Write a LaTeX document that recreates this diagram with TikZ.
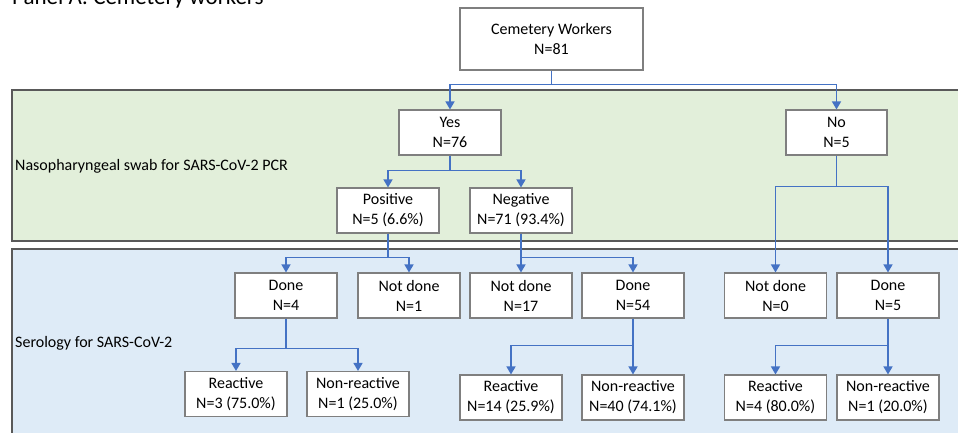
\documentclass[tikz,border=0pt]{standalone}
\usepackage{fontspec}
\setmainfont{Carlito}
\usetikzlibrary{arrows.meta}
\definecolor{conncol}{HTML}{4472C4}
\definecolor{boxcol}{HTML}{7F7F7F}
\definecolor{bandline}{HTML}{595959}
\definecolor{greenfill}{HTML}{E2EFDA}
\definecolor{bluefill}{HTML}{DEEBF7}
\tikzset{
  flowbox/.style={draw=boxcol, line width=1.1pt, fill=white, align=center,
    minimum width=102pt, minimum height=45pt, inner sep=0pt,
    font=\fontsize{16}{20}\selectfont},
  conn/.style={draw=conncol, line width=1.5pt,
    -{Triangle[width=9pt,length=8pt]}},
  band/.style={draw=bandline, line width=1.4pt},
  bandlabel/.style={anchor=west, inner sep=0pt, font=\fontsize{16}{20}\selectfont}
}
\begin{document}
\begin{tikzpicture}[x=1pt,y=-1pt]
\useasboundingbox (0,0) rectangle (958,433);
\clip (0,0) rectangle (958,433);
% title (cut off at the top edge, as in the reference)
\node[anchor=base west, inner sep=0pt, font=\fontsize{23}{27}\selectfont] (title) at (12,4.5) {Panel A: Cemetery workers};
% bands
\path[band, fill=greenfill] (12,90) rectangle (975,241);
\path[band, fill=bluefill] (12,249) rectangle (975,450);
\node[bandlabel] (lab1) at (15,166) {Nasopharyngeal swab for SARS-CoV-2 PCR};
\node[bandlabel] (lab2) at (15,343) {Serology for SARS-CoV-2};
% nodes
\node[flowbox, minimum width=183pt, minimum height=62pt] (top) at (551.5,39) {Cemetery Workers\\N=81};
\node[flowbox] (yes) at (450,132.5) {Yes\\N=76};
\node[flowbox, minimum width=101pt] (no) at (836.5,132.5) {No\\N=5};
\node[flowbox] (pos) at (388,210.5) {Positive\\N=5 (6.6\%)};
\node[flowbox] (neg) at (521,210.5) {Negative\\N=71 (93.4\%)};
\node[flowbox] (done1) at (286,295.5) {Done\\N=4};
\node[flowbox] (nd1) at (409,295.5) {Not done\\N=1};
\node[flowbox] (nd17) at (521,295.5) {Not done\\N=17};
\node[flowbox] (done54) at (633,295.5) {Done\\N=54};
\node[flowbox] (nd0) at (775.5,295.5) {Not done\\N=0};
\node[flowbox] (done5) at (888,295.5) {Done\\N=5};
\node[flowbox] (r3) at (236,394) {Reactive\\N=3 (75.0\%)};
\node[flowbox] (nr1) at (358,394) {Non-reactive\\N=1 (25.0\%)};
\node[flowbox] (r14) at (511,397.5) {Reactive\\N=14 (25.9\%)};
\node[flowbox] (nr40) at (633,397.5) {Non-reactive\\N=40 (74.1\%)};
\node[flowbox] (r4) at (775.5,397.5) {Reactive\\N=4 (80.0\%)};
\node[flowbox] (nr1b) at (888,397.5) {Non-reactive\\N=1 (20.0\%)};
% connectors
\draw[conn] (top.south) -- ++(0,14) -| (yes.north);
\draw[conn] (top.south) -- ++(0,14) -| (no.north);
\draw[conn] (yes.south) -- ++(0,15) -| (pos.north);
\draw[conn] (yes.south) -- ++(0,15) -| (neg.north);
\draw[conn] (no.south) -- ++(0,31) -| (nd0.north);
\draw[conn] (no.south) -- ++(0,31) -| (done5.north);
\draw[conn] (pos.south) -- ++(0,24) -| (done1.north);
\draw[conn] (pos.south) -- ++(0,24) -| (nd1.north);
\draw[conn] (neg.south) -- (nd17.north);
\draw[conn] (neg.south) -- ++(0,24) -| (done54.north);
\draw[conn] (done1.south) -- ++(0,30) -| (r3.north);
\draw[conn] (done1.south) -- ++(0,30) -| (nr1.north);
\draw[conn] (done54.south) -- ++(0,27) -| (r14.north);
\draw[conn] (done54.south) -- (nr40.north);
\draw[conn] (done5.south) -- ++(0,27) -| (r4.north);
\draw[conn] (done5.south) -- (nr1b.north);
\end{tikzpicture}
\end{document}
